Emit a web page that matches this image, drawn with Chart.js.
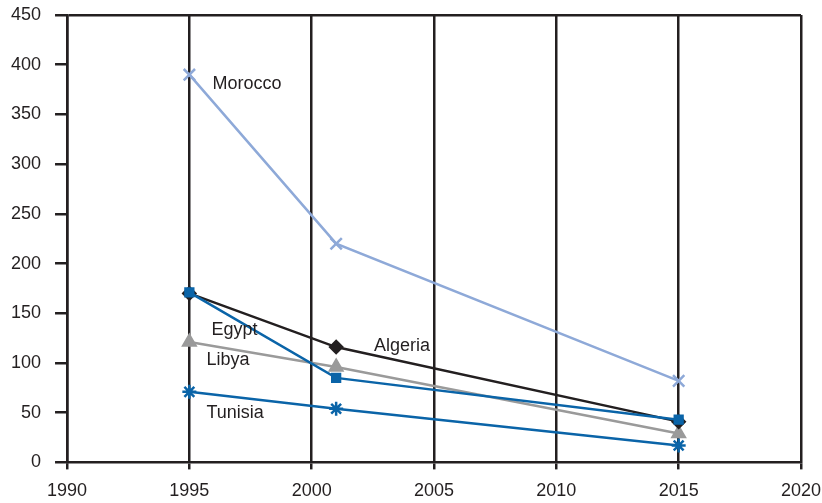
<!DOCTYPE html>
<html>
<head>
<meta charset="utf-8">
<script src="https://cdn.jsdelivr.net/npm/chart.js@4/dist/chart.umd.min.js"></script>
<style>
  html, body { margin: 0; padding: 0; background: #fff; }
  #wrap { width: 822px; height: 503px; }
</style>
</head>
<body>
<div id="wrap"><canvas id="chart" width="822" height="503"></canvas></div>
<script>
// --- Data ---
const years = [1995, 2001, 2015];
const morocco = [390, 220, 82];
const egypt = [171, 85, 43];
const algeria = [170, 116, 41];
const libya = [121, 96, 29];
const tunisia = [71, 54, 17];

const xTicks = [1990, 1995, 2000, 2005, 2010, 2015, 2020];
const yTicks = [0, 50, 100, 150, 200, 250, 300, 350, 400, 450];

// series name labels, placed in data units
const labelNames = ['Morocco', 'Egypt', 'Libya', 'Algeria', 'Tunisia'];
const labelX = [1995.95, 1995.9, 1995.7, 2002.55, 1995.7];
const labelY = [381, 133, 103, 117, 50];

const ink = '#231f20';
const fontFamily = '"Liberation Sans", Arial, sans-serif';

function toPoints(vals) {
    return years.map((y, i) => ({ x: y, y: vals[i] }));
}

function series(label, vals, color, style, radius) {
    return {
        label: label,
        data: toPoints(vals),
        borderColor: color,
        backgroundColor: color,
        pointBorderColor: color,
        pointBackgroundColor: color,
        pointStyle: style,
        pointRadius: radius,
        pointBorderWidth: 2.5,
        borderWidth: 2.5,
        tension: 0
    };
}

// --- Series labels plugin ---
const seriesLabels = {
    id: 'seriesLabels',
    afterDatasetsDraw(chart) {
        const { ctx, scales } = chart;
        ctx.save();
        ctx.font = '18px ' + fontFamily;
        ctx.fillStyle = ink;
        ctx.textAlign = 'left';
        ctx.textBaseline = 'middle';
        labelNames.forEach((name, i) => {
            ctx.fillText(name, scales.x.getPixelForValue(labelX[i]), scales.y.getPixelForValue(labelY[i]));
        });
        ctx.restore();
    }
};

new Chart(document.getElementById('chart').getContext('2d'), {
    type: 'line',
    data: {
        datasets: [
            series('Morocco', morocco, '#8ea9d8', 'crossRot', 8),
            series('Egypt', egypt, '#0a64a8', 'rect', 5.5),
            series('Algeria', algeria, ink, 'rectRot', 6),
            series('Libya', libya, '#9a9a9a', 'triangle', 7),
            series('Tunisia', tunisia, '#0a64a8', 'star', 7)
        ]
    },
    options: {
        responsive: false,
        animation: false,
        layout: { padding: { left: -3, right: 21, top: 15, bottom: -10 } },
        plugins: {
            legend: { display: false },
            tooltip: { enabled: false }
        },
        scales: {
            x: {
                type: 'linear',
                min: 1990,
                max: 2020,
                afterBuildTicks: (axis) => { axis.ticks = xTicks.map(v => ({ value: v })); },
                afterFit: (axis) => { axis.paddingLeft = 0; axis.paddingRight = 0; },
                ticks: {
                    color: ink,
                    font: { size: 18, family: fontFamily },
                    padding: 11,
                    maxRotation: 0,
                    callback: (v) => String(v)
                },
                grid: { color: ink, lineWidth: 2.5, tickLength: 7, tickColor: ink },
                border: { color: ink, width: 2.5 }
            },
            y: {
                min: 0,
                max: 450,
                afterBuildTicks: (axis) => { axis.ticks = yTicks.map(v => ({ value: v })); },
                afterFit: (axis) => { axis.paddingTop = 0; axis.paddingBottom = 0; },
                ticks: {
                    color: ink,
                    font: { size: 18, family: fontFamily },
                    padding: 14
                },
                grid: {
                    color: (c) => (c.tick && c.tick.value === 450 ? ink : 'rgba(0,0,0,0)'),
                    tickColor: ink,
                    lineWidth: 2.5,
                    tickLength: 12
                },
                border: { color: ink, width: 2.5 }
            }
        }
    },
    plugins: [seriesLabels]
});
</script>
</body>
</html>
